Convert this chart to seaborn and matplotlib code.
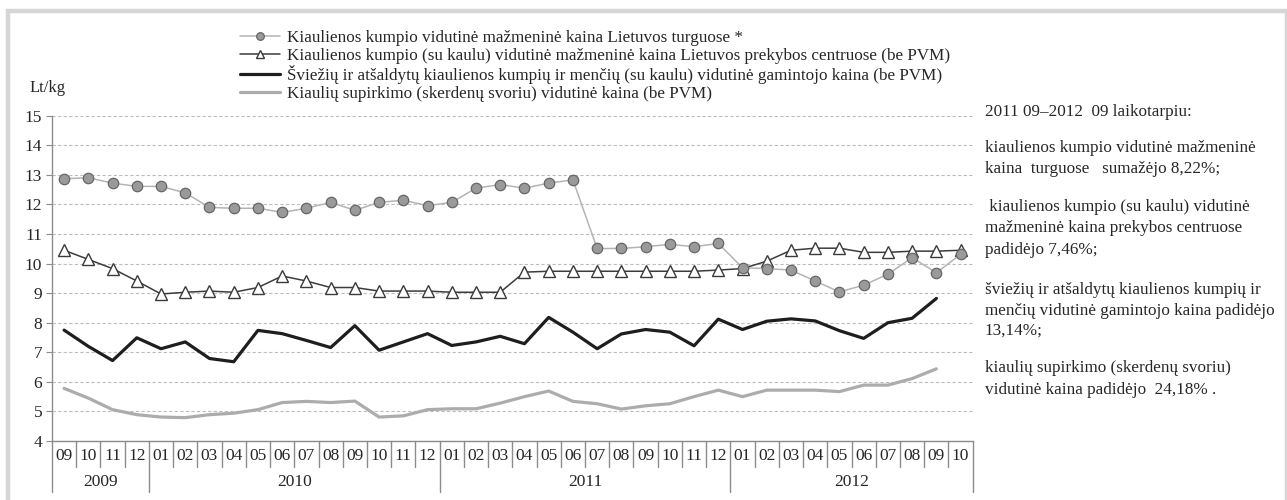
import numpy as np
import pandas as pd
import matplotlib
matplotlib.use("Agg")
import matplotlib.pyplot as plt
import seaborn as sns
from matplotlib.patches import Rectangle

# Mėnesiai 2009 09 - 2012 10
menesiai = ["09", "10", "11", "12",
            "01", "02", "03", "04", "05", "06", "07", "08", "09", "10", "11", "12",
            "01", "02", "03", "04", "05", "06", "07", "08", "09", "10", "11", "12",
            "01", "02", "03", "04", "05", "06", "07", "08", "09", "10"]
metai = ["2009", "2010", "2011", "2012"]
metu_ilgis = [4, 12, 12, 10]

# Kainos, Lt/kg (nuskaityta nuo grafiko)
turgus = [12.87, 12.90, 12.72, 12.61, 12.61, 12.39, 11.90, 11.87, 11.87, 11.73,
          11.87, 12.07, 11.80, 12.07, 12.14, 11.96, 12.07, 12.55, 12.67, 12.55,
          12.72, 12.83, 10.51, 10.51, 10.57, 10.65, 10.57, 10.68, 9.86, 9.83,
          9.78, 9.41, 9.04, 9.27, 9.64, 10.20, 9.69, 10.31]
centrai = [10.45, 10.14, 9.83, 9.41, 8.97, 9.03, 9.07, 9.03, 9.19, 9.58,
           9.41, 9.19, 9.19, 9.07, 9.07, 9.07, 9.03, 9.03, 9.03, 9.71,
           9.74, 9.74, 9.74, 9.74, 9.74, 9.74, 9.74, 9.78, 9.83, 10.08,
           10.45, 10.52, 10.52, 10.38, 10.38, 10.42, 10.42, 10.45]
gamintojo = [7.75, 7.20, 6.72, 7.49, 7.12, 7.35, 6.79, 6.68, 7.74, 7.63,
             7.40, 7.16, 7.90, 7.07, 7.35, 7.63, 7.23, 7.35, 7.54, 7.29,
             8.18, 7.68, 7.12, 7.62, 7.77, 7.68, 7.22, 8.12, 7.77, 8.05,
             8.13, 8.06, 7.73, 7.47, 8.00, 8.15, 8.82, np.nan]
supirkimo = [5.78, 5.45, 5.06, 4.89, 4.81, 4.79, 4.89, 4.94, 5.06, 5.30,
             5.34, 5.30, 5.35, 4.81, 4.85, 5.06, 5.09, 5.09, 5.28, 5.50,
             5.69, 5.34, 5.26, 5.08, 5.19, 5.26, 5.50, 5.72, 5.50, 5.72,
             5.72, 5.72, 5.67, 5.89, 5.89, 6.11, 6.44, np.nan]

pavadinimai = [
    "Kiaulienos kumpio vidutinė mažmeninė kaina Lietuvos turguose *",
    "Kiaulienos kumpio (su kaulu) vidutinė mažmeninė kaina Lietuvos prekybos centruose (be PVM)",
    "Šviežių ir atšaldytų kiaulienos kumpių ir menčių (su kaulu) vidutinė gamintojo kaina (be PVM)",
    "Kiaulių supirkimo (skerdenų svoriu) vidutinė kaina (be PVM)",
]

komentarai = [
    ("2011 09–2012  09 laikotarpiu:", 112),
    ("kiaulienos kumpio vidutinė mažmeninė", 148),
    ("kaina  turguose   sumažėjo 8,22%;", 169),
    (" kiaulienos kumpio (su kaulu) vidutinė", 207),
    ("mažmeninė kaina prekybos centruose", 228),
    ("padidėjo 7,46%;", 250),
    ("šviežių ir atšaldytų kiaulienos kumpių ir", 290),
    ("menčių vidutinė gamintojo kaina padidėjo", 311),
    ("13,14%;", 331),
    ("kiaulių supirkimo (skerdenų svoriu)", 368),
    ("vidutinė kaina padidėjo  24,18% .", 390),
]

sns.set_style("white")
plt.rcParams["font.family"] = ["Liberation Serif", "DejaVu Serif"]

W, H = 1287, 500
fig = plt.figure(figsize=(W / 100, H / 100), dpi=100)
ax = fig.add_axes([52 / W, 59 / H, 920.7 / W, 325.3 / H])

df = pd.DataFrame({"x": np.arange(len(menesiai)), "turgus": turgus, "centrai": centrai,
                   "gamintojo": gamintojo, "supirkimo": supirkimo})

sns.lineplot(data=df, x="x", y="supirkimo", ax=ax, color="#acacac", lw=2.3,
             estimator=None, label=pavadinimai[3])
sns.lineplot(data=df, x="x", y="gamintojo", ax=ax, color="#1e1e1e", lw=2.3,
             estimator=None, label=pavadinimai[2])
sns.lineplot(data=df, x="x", y="centrai", ax=ax, color="#3c3c3c", lw=1.1,
             estimator=None, marker="^", markersize=9, markerfacecolor="white",
             markeredgecolor="#3a3a3a", markeredgewidth=1.0, label=pavadinimai[1])
sns.lineplot(data=df, x="x", y="turgus", ax=ax, color="#b4b4b4", lw=1.1,
             estimator=None, marker="o", markersize=7.5, markerfacecolor="#9a9a9a",
             markeredgecolor="#666666", markeredgewidth=0.9, label=pavadinimai[0])

ax.set_xlim(-0.5, len(menesiai) - 0.5)
ax.set_ylim(4, 15)
ax.set_yticks(range(4, 16))
ax.set_xticks(range(len(menesiai)))
ax.set_xticklabels(menesiai)
ax.set_xlabel("")
ax.set_ylabel("")
ax.grid(axis="y", color="#bdbdbd", lw=0.8, linestyle=(0, (3, 2)))
ax.grid(axis="x", visible=False)
for s in ["top", "right"]:
    ax.spines[s].set_visible(False)
for s in ["left", "bottom"]:
    ax.spines[s].set_color("#8c8c8c")
    ax.spines[s].set_linewidth(1.0)
ax.tick_params(axis="y", length=4, color="#8c8c8c", labelsize=12.5, pad=3, left=True)
ax.tick_params(axis="x", length=0, labelsize=12.5, pad=5)

# Mėnesių ir metų skirtukai po ašimi
trans = ax.get_xaxis_transform()
ribos = np.cumsum([0] + metu_ilgis) - 0.5
for k in range(len(menesiai) + 1):
    x = k - 0.5
    apacia = -0.156 if x in ribos else -0.079
    ax.plot([x, x], [0, apacia], transform=trans, color="#8c8c8c", lw=1.0, clip_on=False)
for i, m in enumerate(metai):
    centras = (ribos[i] + ribos[i + 1]) / 2
    ax.text(centras, -0.125, m, transform=trans, ha="center", va="center", fontsize=12.5)

# Legenda
h, l = ax.get_legend_handles_labels()
tvarka = [3, 2, 1, 0]
leg = ax.legend([h[i] for i in tvarka], [l[i] for i in tvarka], loc="upper left",
                bbox_to_anchor=(240 / W, 1 - 30 / H), bbox_transform=fig.transFigure,
                frameon=False, fontsize=12.35, handlelength=2.33, handletextpad=0.4,
                labelspacing=0.1, borderpad=0, borderaxespad=0)
for lh in leg.legend_handles:
    if lh.get_marker() not in (None, "None", ""):
        lh.set_markersize(5.5)

fig.text(30 / W, 1 - 88 / H, "Lt/kg", ha="left", va="center", fontsize=12)

for tekstas, y in komentarai:
    fig.text(985 / W, 1 - y / H, tekstas, ha="left", va="center", fontsize=12.3)

# Pilkas rėmelis
fig.patches.append(Rectangle((7.5 / W, -0.1), (1286.5 - 7.5) / W, 1.1 - 11 / H,
                             transform=fig.transFigure, fill=False,
                             edgecolor="#d6d6d6", lw=3.2))

fig.savefig("out.png", dpi=100)
